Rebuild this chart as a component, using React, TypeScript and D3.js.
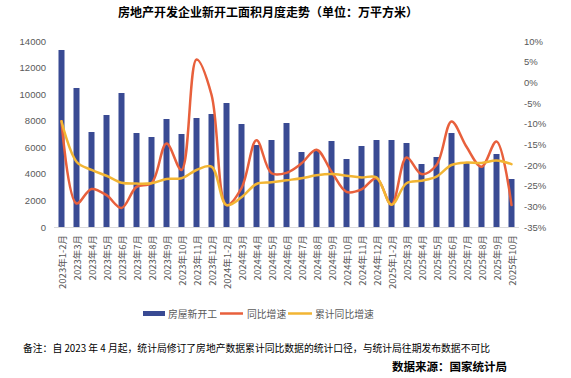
import React from "react";
import * as d3 from "d3";

const categories: string[] = [
  "2023年1-2月", "2023年3月", "2023年4月", "2023年5月", "2023年6月", "2023年7月", "2023年8月", "2023年9月", "2023年10月", "2023年11月", "2023年12月",
  "2024年1-2月", "2024年3月", "2024年4月", "2024年5月", "2024年6月", "2024年7月", "2024年8月", "2024年9月", "2024年10月", "2024年11月", "2024年12月",
  "2025年1-2月", "2025年3月", "2025年4月", "2025年5月", "2025年6月", "2025年7月", "2025年8月", "2025年9月", "2025年10月",
];

const newStarts: number[] = [
  13323, 10463, 7150, 8430, 10086, 7075, 6774, 8129, 7000, 8204, 8505,
  9333, 7752, 6172, 6548, 7828, 5645, 5796, 6473, 5118, 6097, 6548,
  6548, 6323, 4742, 5269, 7075, 4842, 4595, 5495, 3613,
];

const monthlyYoY: number[] = [
  -9.4, -29.3, -25.8, -27.3, -30.4, -25.3, -24.4, -14.8, -21.2, 5.5, -3.0,
  -29.7, -25.6, -14.0, -22.0, -21.9, -19.6, -16.3, -21.6, -26.5, -25.9, -23.2,
  -29.6, -18.2, -22.2, -20.0, -9.5, -15.6, -20.4, -14.3, -29.7,
];

const cumulativeYoY: number[] = [
  -9.4, -19.2, -21.2, -22.6, -24.3, -24.5, -24.4, -23.4, -23.2, -21.2, -20.4,
  -29.7, -27.8, -24.6, -24.2, -23.7, -23.2, -22.5, -22.2, -22.6, -23.0, -23.0,
  -29.6, -24.4, -23.8, -22.8, -20.0, -19.4, -19.5, -18.9, -19.8,
];

const leftTicks: number[] = [0, 2000, 4000, 6000, 8000, 10000, 12000, 14000];
const rightTicks: number[] = [10, 5, 0, -5, -10, -15, -20, -25, -30, -35];

const seriesNames: string[] = ["房屋新开工", "同比增速", "累计同比增速"];
const title = "房地产开发企业新开工面积月度走势（单位：万平方米）";
const note = "备注：自 2023 年 4 月起，统计局修订了房地产数据累计同比数据的统计口径，与统计局往期发布数据不可比";
const source = "数据来源：国家统计局";

const BLUE = "#394A93";
const RED = "#E8603C";
const YELLOW = "#F2B533";
const GRAY = "#595959";
const CJK = "'Noto Sans CJK SC', 'Noto Sans', sans-serif";
const NUM = "'Liberation Sans', Arial, sans-serif";

export default function App() {
  const W = 571, H = 378;
  const left = 54, right = 519, top = 41, bottom = 227;

  const x = d3.scaleBand<string>().domain(categories).range([left, right]).paddingInner(0.6).paddingOuter(0.3);
  const xc = (i: number) => (x(categories[i]) as number) + x.bandwidth() / 2;
  const yL = d3.scaleLinear().domain([0, 14000]).range([bottom, top]);
  const yR = d3.scaleLinear().domain([-35, 10]).range([bottom, top]);

  const lineGen = d3
    .line<number>()
    .x((_, i) => xc(i))
    .y((d) => yR(d))
    .curve(d3.curveCatmullRom.alpha(0.5));

  return (
    <svg width={W} height={H} style={{ position: "absolute", left: 0, top: 0, background: "#fff" }}>
      <text x={268} y={17} textAnchor="middle" fontFamily={CJK} fontWeight="bold" fontSize={12} fill="#000">
        {title}
      </text>

      {leftTicks.map((t) => (
        <text key={"l" + t} x={46} y={yL(t)} textAnchor="end" dominantBaseline="central" fontFamily={NUM} fontSize={9.5} fill={GRAY}>
          {t}
        </text>
      ))}
      {rightTicks.map((t) => (
        <text key={"r" + t} x={524} y={yR(t)} textAnchor="start" dominantBaseline="central" fontFamily={NUM} fontSize={9.5} fill={GRAY}>
          {t + "%"}
        </text>
      ))}

      {newStarts.map((v, i) => (
        <rect key={"b" + i} x={x(categories[i])} y={yL(v)} width={x.bandwidth()} height={yL(0) - yL(v)} fill={BLUE} />
      ))}

      <line x1={left} x2={right} y1={bottom + 0.5} y2={bottom + 0.5} stroke="#D9D9D9" strokeWidth={1} />

      <path d={lineGen(monthlyYoY) || ""} fill="none" stroke={RED} strokeWidth={2.5} strokeLinejoin="round" strokeLinecap="round" />
      <path d={lineGen(cumulativeYoY) || ""} fill="none" stroke={YELLOW} strokeWidth={2.5} strokeLinejoin="round" strokeLinecap="round" />

      {categories.map((c, i) => (
        <text
          key={"x" + i}
          transform={`translate(${xc(i)},235) rotate(-90)`}
          textAnchor="end"
          dominantBaseline="central"
          fontFamily={CJK}
          fontSize={9.5}
          fill={GRAY}
        >
          {c}
        </text>
      ))}

      <g fontFamily={CJK} fontSize={9.8} fill={GRAY}>
        <rect x={143} y={311} width={22} height={5} fill={BLUE} />
        <text x={168} y={313.5} dominantBaseline="central">{seriesNames[0]}</text>
        <line x1={220} x2={243} y1={313.5} y2={313.5} stroke={RED} strokeWidth={2.5} />
        <text x={247} y={313.5} dominantBaseline="central">{seriesNames[1]}</text>
        <line x1={288} x2={312} y1={313.5} y2={313.5} stroke={YELLOW} strokeWidth={2.5} />
        <text x={315} y={313.5} dominantBaseline="central">{seriesNames[2]}</text>
      </g>

      <text x={23} y={348} dominantBaseline="central" fontFamily={CJK} fontSize={9.8} fill="#000">
        {note}
      </text>
      <text x={507} y={366} textAnchor="end" dominantBaseline="central" fontFamily={CJK} fontWeight="bold" fontSize={11.5} fill="#000">
        {source}
      </text>
    </svg>
  );
}
